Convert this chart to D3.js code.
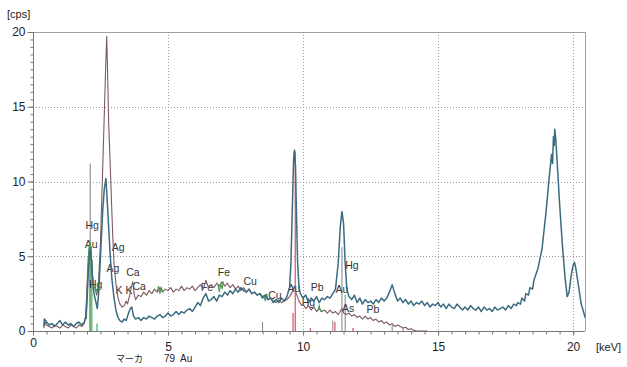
<!DOCTYPE html>
<html><head><meta charset="utf-8">
<script src="https://cdn.jsdelivr.net/npm/d3@7"></script>
<style>html,body{margin:0;padding:0;background:#fff;}svg{display:block;}</style>
</head><body>
<svg id="chart" width="627" height="367"></svg>
<script>
// ---- data ----
const xMajorTicks = [0, 5, 10, 15, 20];
const yMajorTicks = [0, 5, 10, 15, 20];
const xUnit = "[keV]";
const yUnit = "[cps]";
const markerCaption = ["マーカ", "79", "Au"];

// spectrum 1 (blue), [keV, cps]
const blueSpectrum = [
[0.40,0.3],[0.42,0.8],[0.5,0.6],[0.6,0.4],[0.7,0.5],[0.8,0.3],[0.9,0.5],[1.0,0.7],[1.1,0.4],[1.2,0.6],
[1.3,0.4],[1.4,0.5],[1.5,0.3],[1.6,0.5],[1.7,0.6],[1.8,0.4],[1.9,0.6],[1.95,0.9],[2.0,2.0],[2.05,4.0],
[2.1,5.2],[2.13,5.5],[2.17,4.6],[2.22,3.0],[2.27,2.4],[2.32,2.0],[2.38,1.5],[2.43,2.5],[2.5,5.0],[2.58,8.0],
[2.64,9.5],[2.70,10.2],[2.74,9.0],[2.8,7.0],[2.86,5.0],[2.92,3.5],[3.0,2.2],[3.08,1.3],[3.15,0.9],[3.22,0.7],
[3.3,0.6],[3.38,0.8],[3.45,0.7],[3.52,1.1],[3.6,1.5],[3.66,1.6],[3.72,1.0],[3.8,0.8],[3.9,0.9],[4.0,0.7],
[4.1,0.9],[4.2,0.8],[4.3,1.0],[4.4,0.9],[4.5,0.8],[4.6,1.0],[4.7,1.1],[4.8,0.9],[4.9,1.0],[5.0,1.2],
[5.1,1.0],[5.2,1.1],[5.3,1.3],[5.4,1.1],[5.5,1.3],[5.6,1.2],[5.7,1.4],[5.8,1.5],[5.9,1.3],[6.0,1.6],
[6.1,1.9],[6.2,1.7],[6.3,2.2],[6.4,2.5],[6.5,2.0],[6.6,2.1],[6.7,2.3],[6.8,2.0],[6.9,2.4],[7.0,2.3],
[7.1,2.6],[7.2,2.4],[7.3,2.7],[7.4,2.5],[7.5,2.8],[7.6,2.6],[7.7,2.9],[7.8,2.7],[7.9,2.6],[8.0,2.8],
[8.1,2.5],[8.2,2.6],[8.3,2.4],[8.4,2.5],[8.5,2.2],[8.6,2.4],[8.7,2.1],[8.8,2.2],[8.9,1.9],[9.0,2.1],
[9.1,1.9],[9.2,2.2],[9.3,2.0],[9.4,2.3],[9.5,2.9],[9.55,4.5],[9.6,8.0],[9.65,11.5],[9.68,12.1],[9.72,11.0],
[9.76,7.5],[9.8,4.5],[9.85,2.9],[9.9,2.5],[10.0,2.2],[10.1,2.4],[10.2,1.9],[10.3,2.2],[10.4,2.0],[10.5,2.3],
[10.6,1.9],[10.7,2.2],[10.8,2.1],[10.9,2.3],[11.0,2.2],[11.1,2.5],[11.2,2.8],[11.3,4.5],[11.38,7.0],[11.44,8.0],
[11.5,7.2],[11.56,4.5],[11.62,2.8],[11.7,2.3],[11.8,2.1],[11.9,2.4],[12.0,1.9],[12.1,2.2],[12.2,1.8],[12.3,2.1],
[12.4,1.9],[12.5,2.0],[12.6,1.8],[12.7,2.1],[12.8,1.9],[12.9,2.2],[13.0,2.0],[13.1,2.2],[13.2,2.6],[13.3,3.1],
[13.4,2.5],[13.5,2.0],[13.6,2.2],[13.7,1.9],[13.8,2.1],[13.9,1.8],[14.0,2.0],[14.1,1.7],[14.2,1.9],[14.3,1.8],
[14.4,2.0],[14.5,1.7],[14.6,1.9],[14.7,1.6],[14.8,1.8],[14.9,1.7],[15.0,1.9],[15.1,1.6],[15.2,1.8],[15.3,1.5],
[15.4,1.8],[15.5,1.6],[15.6,1.5],[15.7,1.8],[15.8,1.6],[15.9,1.4],[16.0,1.6],[16.1,1.4],[16.2,1.7],[16.3,1.5],
[16.4,1.4],[16.5,1.6],[16.6,1.3],[16.7,1.6],[16.8,1.4],[16.9,1.5],[17.0,1.3],[17.1,1.6],[17.2,1.4],[17.3,1.5],
[17.4,1.6],[17.5,1.4],[17.6,1.7],[17.7,1.5],[17.8,1.8],[17.9,1.7],[17.95,1.9],[18.05,1.8],[18.1,2.2],[18.2,2.0],
[18.25,2.5],[18.35,2.4],[18.4,2.9],[18.5,2.8],[18.55,3.4],[18.7,4.2],[18.85,5.5],[19.0,8.0],[19.1,10.0],[19.2,11.8],
[19.24,11.2],[19.27,13.0],[19.3,12.4],[19.32,13.5],[19.36,12.8],[19.42,11.0],[19.5,8.5],[19.6,5.8],[19.7,3.6],[19.78,2.3],
[19.85,2.6],[19.92,3.6],[20.0,4.4],[20.05,4.6],[20.1,4.2],[20.2,3.0],[20.3,1.8],[20.4,1.2],[20.44,0.9]
];

// spectrum 2 (mauve), [keV, cps]
const mauveSpectrum = [
[0.4,0.2],[0.45,0.6],[0.5,0.4],[0.6,0.3],[0.7,0.2],[0.8,0.4],[0.9,0.3],[1.0,0.2],[1.1,0.4],[1.2,0.3],
[1.3,0.2],[1.4,0.4],[1.5,0.3],[1.6,0.2],[1.7,0.4],[1.8,0.3],[1.9,0.5],[1.95,1.0],[2.0,3.0],[2.05,5.0],
[2.1,5.8],[2.14,5.6],[2.2,3.8],[2.25,3.0],[2.3,2.8],[2.36,2.4],[2.42,3.0],[2.5,6.0],[2.6,12.0],[2.68,17.0],
[2.73,19.7],[2.76,17.5],[2.8,14.0],[2.85,11.6],[2.9,9.0],[2.95,6.5],[3.0,4.5],[3.08,3.0],[3.15,2.2],[3.22,1.8],
[3.3,1.6],[3.38,1.7],[3.45,2.0],[3.5,1.8],[3.58,2.4],[3.65,3.0],[3.7,3.3],[3.75,2.4],[3.8,2.1],[3.9,2.4],
[4.0,2.3],[4.1,2.6],[4.2,2.4],[4.3,2.7],[4.4,2.5],[4.5,2.8],[4.6,2.6],[4.7,2.9],[4.8,2.6],[4.9,2.8],
[5.0,2.7],[5.1,2.9],[5.2,2.6],[5.3,2.8],[5.4,2.7],[5.5,3.0],[5.6,2.7],[5.7,2.9],[5.8,2.8],[5.9,3.0],
[6.0,2.7],[6.1,2.9],[6.2,3.1],[6.3,2.8],[6.4,3.4],[6.5,2.9],[6.6,3.1],[6.7,2.9],[6.8,3.2],[6.9,3.0],
[7.0,3.3],[7.1,3.0],[7.2,3.2],[7.3,2.9],[7.4,3.1],[7.5,2.8],[7.6,3.0],[7.7,2.7],[7.8,2.9],[7.9,2.6],
[8.0,2.8],[8.1,2.5],[8.2,2.6],[8.3,2.4],[8.4,2.5],[8.5,2.3],[8.6,2.4],[8.7,2.1],[8.8,2.2],[8.9,2.0],
[9.0,1.9],[9.1,2.1],[9.2,1.9],[9.3,2.0],[9.4,2.1],[9.5,2.3],[9.6,2.6],[9.68,3.0],[9.75,2.5],[9.85,2.0],
[9.95,1.7],[10.0,1.8],[10.1,1.5],[10.2,1.7],[10.3,1.4],[10.4,1.6],[10.5,1.3],[10.6,1.5],[10.7,1.3],[10.8,1.4],
[10.9,1.2],[11.0,1.4],[11.1,1.2],[11.2,1.3],[11.3,1.1],[11.44,1.5],[11.5,1.2],[11.6,1.1],[11.7,1.2],[11.8,1.0],
[11.9,1.1],[12.0,0.9],[12.1,1.0],[12.2,0.8],[12.3,1.0],[12.4,0.8],[12.5,0.9],[12.6,0.7],[12.7,0.8],[12.8,0.6],
[12.9,0.7],[13.0,0.5],[13.1,0.6],[13.2,0.4],[13.3,0.5],[13.4,0.3],[13.5,0.4],[13.6,0.3],[13.7,0.2],[13.8,0.25],
[13.9,0.1],[14.0,0.15],[14.1,0.05],[14.2,0.0],[14.6,0.0]
];

// green overlay segments of spectrum 2, [keV, cps]
const greenSegments = [
  [[1.98,0.8],[2.02,3.5],[2.07,5.5],[2.11,5.9],[2.15,5.4],[2.2,3.6],[2.25,2.9],[2.3,2.9],[2.35,2.7],[2.4,2.9],[2.45,3.5]],
  [[4.6,2.6],[4.65,3.0],[4.7,2.5],[4.75,2.9],[4.8,2.6]],
  [[6.85,3.1],[6.9,2.6],[6.95,3.2],[7.0,2.8],[7.05,3.3]],
  [[8.55,2.4],[8.6,2.0],[8.65,2.5],[8.7,2.1]],
  [[10.55,1.4],[10.6,1.7],[10.65,1.3]]
];

// marker lines: [keV, height cps, kind]
const markerLines = [
  [2.12, 11.2, "gray"], [2.11, 5.3, "green"], [2.18, 4.8, "green"], [2.37, 0.5, "green"],
  [8.5, 0.6, "gray"], [9.63, 1.2, "red"], [9.71, 12.0, "red"], [10.27, 0.2, "red"],
  [11.1, 0.7, "gray"], [11.18, 0.6, "red"], [11.44, 5.6, "gray"], [11.56, 2.4, "gray"],
  [11.85, 0.2, "red"], [13.3, 0.4, "gray"], [13.7, 0.2, "gray"]
];

// element labels: [text, keV, cps]
const elementLabels = [
  ["Hg", 2.19, 7.1], ["Au", 2.15, 5.8], ["Ag", 3.15, 5.6], ["Ag", 2.96, 4.2],
  ["Ca", 3.70, 3.95], ["K K", 3.37, 2.7], ["Ca", 3.93, 3.0], ["Hg", 2.32, 3.1],
  ["Fe", 6.44, 2.95], ["Fe", 7.07, 3.9], ["Cu", 8.04, 3.3], ["Cu", 8.96, 2.4],
  ["Au", 9.66, 2.85], ["Pb", 10.52, 2.95], ["Hg", 10.2, 1.95], ["Au", 11.44, 2.8],
  ["Hg", 11.81, 4.4], ["As", 11.67, 1.55], ["Pb", 12.59, 1.47]
];

// ---- drawing ----
const svg = d3.select("#chart");
const font = "'Liberation Sans', Arial, sans-serif";
const x = d3.scaleLinear().domain([0, 20.44]).range([33, 585]);
const y = d3.scaleLinear().domain([0, 20]).range([331, 32]);

const xMinor = d3.range(0, 20.44, 0.5);
const yMinor = d3.range(0, 20.01, 0.5);

// grid
const grid = svg.append("g");
grid.selectAll(".gx").data(xMajorTicks.filter(d => d > 0)).join("line")
  .attr("x1", d => Math.round(x(d)) + 0.5).attr("x2", d => Math.round(x(d)) + 0.5)
  .attr("y1", y(20)).attr("y2", y(0))
  .attr("stroke", "#9a9a9a").attr("stroke-width", 1).attr("stroke-dasharray", "1,2");
grid.selectAll(".gy").data(yMajorTicks.filter(d => d > 0 && d < 20)).join("line")
  .attr("y1", d => Math.round(y(d)) + 0.5).attr("y2", d => Math.round(y(d)) + 0.5)
  .attr("x1", x(0)).attr("x2", x(20.44))
  .attr("stroke", "#9a9a9a").attr("stroke-width", 1).attr("stroke-dasharray", "1,2");
// frame top and right
svg.append("line").attr("x1", x(0)).attr("x2", x(20.44)).attr("y1", Math.round(y(20)) + 0.5).attr("y2", Math.round(y(20)) + 0.5)
  .attr("stroke", "#a0a0a0");
svg.append("line").attr("x1", Math.round(x(20.44)) + 0.5).attr("x2", Math.round(x(20.44)) + 0.5).attr("y1", y(20)).attr("y2", y(0))
  .attr("stroke", "#a0a0a0");

// axes
const axisColor = "#777";
const gyMinor = svg.append("g").attr("transform", `translate(${Math.round(x(0)) + 0.5},0)`)
  .call(d3.axisLeft(y).tickValues(yMinor).tickSize(3).tickFormat(""));
const gyMajor = svg.append("g").attr("transform", `translate(${Math.round(x(0)) + 0.5},0)`)
  .call(d3.axisLeft(y).tickValues(yMajorTicks).tickSize(6).tickPadding(2).tickFormat(d3.format("d")));
const gxMinor = svg.append("g").attr("transform", `translate(0,${Math.round(y(0)) + 0.5})`)
  .call(d3.axisBottom(x).tickValues(xMinor).tickSize(3).tickFormat(""));
const gxMajor = svg.append("g").attr("transform", `translate(0,${Math.round(y(0)) + 0.5})`)
  .call(d3.axisBottom(x).tickValues(xMajorTicks).tickSize(4).tickPadding(7).tickFormat(d3.format("d")));
[gyMinor, gyMajor, gxMinor, gxMajor].forEach(g => {
  g.selectAll("path").attr("stroke", axisColor);
  g.selectAll("line").attr("stroke", axisColor);
  g.selectAll("text").attr("font-family", font).attr("font-size", 12).attr("fill", "#222");
});
gxMajor.select(".domain").attr("d", `M${x(0)},0H${x(20.44)}`);
gyMajor.select(".domain").attr("d", `M0,${y(0)}V${y(20)}`);
gyMinor.select(".domain").remove();
gxMinor.select(".domain").remove();
gxMajor.selectAll(".tick text").filter(d => d === 0).attr("y", 7);

// unit labels
svg.append("text").attr("x", 7).attr("y", 18).text(yUnit)
  .attr("font-family", font).attr("font-size", 11).attr("fill", "#222");
svg.append("text").attr("x", 596).attr("y", 351).text(xUnit)
  .attr("font-family", font).attr("font-size", 11).attr("fill", "#222");
svg.append("text").attr("x", 116).attr("y", 362).text(markerCaption[0])
  .attr("font-family", "'Noto Sans CJK JP', sans-serif").attr("font-size", 9).attr("fill", "#222");
svg.append("text").attr("x", 164).attr("y", 362).text(markerCaption[1])
  .attr("font-family", font).attr("font-size", 10).attr("fill", "#222");
svg.append("text").attr("x", 180).attr("y", 362).text(markerCaption[2])
  .attr("font-family", font).attr("font-size", 10).attr("fill", "#222");

// marker lines
const markerColor = { gray: "#8c8c8c", green: "#3aa84a", red: "#d4454f" };
svg.append("g").selectAll("line").data(markerLines).join("line")
  .attr("x1", d => x(d[0])).attr("x2", d => x(d[0]))
  .attr("y1", y(0)).attr("y2", d => y(d[1]))
  .attr("stroke", d => markerColor[d[2]]).attr("stroke-width", 1.1);

// element labels
svg.append("g").selectAll("text").data(elementLabels).join("text")
  .attr("x", d => x(d[1])).attr("y", d => y(d[2]))
  .attr("dy", "0.35em").attr("text-anchor", "middle")
  .attr("font-family", font).attr("font-size", 10.5).attr("fill", "#333")
  .text(d => d[0]);

// spectra
const line = d3.line().x(d => x(d[0])).y(d => y(d[1]));
svg.append("path").datum(mauveSpectrum).attr("d", line)
  .attr("fill", "none").attr("stroke", "#7d5a62").attr("stroke-width", 1.1).attr("stroke-linejoin", "round");
svg.append("g").selectAll("path").data(greenSegments).join("path")
  .attr("d", line).attr("fill", "none").attr("stroke", "#4a9a50").attr("stroke-width", 1.1);
svg.append("path").datum(blueSpectrum).attr("d", line)
  .attr("fill", "none").attr("stroke", "#3b6b80").attr("stroke-width", 1.5).attr("stroke-linejoin", "round");
</script>
</body></html>
